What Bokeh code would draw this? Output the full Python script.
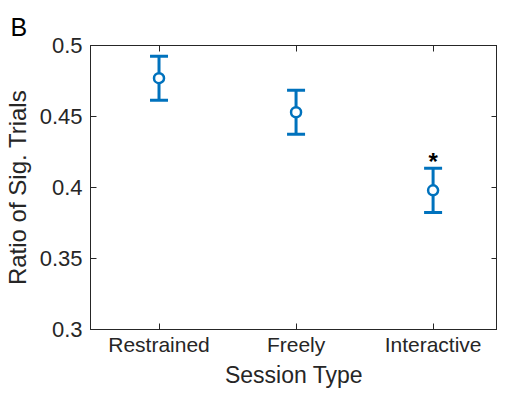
from bokeh.plotting import figure
from bokeh.models import FixedTicker, LinearAxis, Whisker, TeeHead, ColumnDataSource, Range1d
from bokeh.core.properties import value
from bokeh.embed import file_html
from bokeh.resources import INLINE

categories = ["Restrained", "Freely", "Interactive"]
means = [0.477, 0.453, 0.398]
sem = [0.0155, 0.0155, 0.0156]
y_ticks = [0.3, 0.35, 0.4, 0.45, 0.5]
y_tick_labels = ["0.3", "0.35", "0.4", "0.45", "0.5"]
star_index = 2
star_y = 0.421

BLUE = "#0072BD"
AX = "#262626"
FONT = "Liberation Sans"

xs = [i + 1 for i in range(len(categories))]
lower = [m - s for m, s in zip(means, sem)]
upper = [m + s for m, s in zip(means, sem)]
src = ColumnDataSource(dict(x=xs, y=means, lower=lower, upper=upper))

p = figure(width=497, height=390, output_backend="svg", toolbar_location=None,
           x_range=Range1d(0.5, 3.47), y_range=Range1d(0.3, 0.5),
           min_border_left=82, min_border_right=0, min_border_top=45, min_border_bottom=61)
p.background_fill_color = "white"
p.border_fill_color = "white"
p.xgrid.visible = False
p.ygrid.visible = False
p.outline_line_color = AX
p.outline_line_width = 1

p.title.text = "B"
p.title.text_font = FONT
p.title.text_font_size = "25px"
p.title.text_font_style = "normal"
p.title.align = "left"
p.title.offset = -80
p.title.text_color = "black"

def style_axis(ax, tick_size="20px", label_size="22px"):
    ax.axis_line_color = AX
    ax.major_tick_line_color = AX
    ax.major_tick_in = 6
    ax.major_tick_out = 0
    ax.minor_tick_line_color = None
    ax.major_label_text_font = FONT
    ax.major_label_text_color = AX
    ax.major_label_text_font_size = tick_size
    ax.axis_label_text_font = FONT
    ax.axis_label_text_color = AX
    ax.axis_label_text_font_style = "normal"
    ax.axis_label_text_font_size = label_size

xa = p.xaxis[0]
xa.ticker = FixedTicker(ticks=xs)
xa.major_label_overrides = {x: c for x, c in zip(xs, categories)}
xa.axis_label = "Session Type"
style_axis(xa, "21px", "23px")
xa.major_label_standoff = 3
xa.axis_label_standoff = 3

ya = p.yaxis[0]
ya.ticker = FixedTicker(ticks=y_ticks)
ya.major_label_overrides = {t: l for t, l in zip(y_ticks, y_tick_labels)}
ya.axis_label = "Ratio of Sig. Trials"
style_axis(ya, "22px", "24px")
ya.major_label_standoff = 8
ya.axis_label_standoff = 6

top = LinearAxis(ticker=FixedTicker(ticks=xs))
style_axis(top)
top.major_label_overrides = {x: "" for x in xs}
top.major_label_standoff = 0
top.axis_label_standoff = 0
p.add_layout(top, "above")

right = LinearAxis(ticker=FixedTicker(ticks=y_ticks))
style_axis(right)
right.major_label_overrides = {t: "" for t in y_ticks}
right.major_label_standoff = 0
right.axis_label_standoff = 0
p.add_layout(right, "right")

w = Whisker(source=src, base="x", lower="lower", upper="upper", dimension="height",
            line_color=BLUE, line_width=3,
            upper_head=TeeHead(size=18, line_color=BLUE, line_width=3),
            lower_head=TeeHead(size=18, line_color=BLUE, line_width=3))
p.add_layout(w)

p.scatter("x", "y", source=src, marker="circle", size=10, line_color=BLUE,
          line_width=2.5, fill_color="white")

p.text(x=[xs[star_index]], y=[star_y], text=["*"], text_font=value(FONT),
       text_font_size="24px", text_font_style="bold", text_color="black",
       text_align="center", text_baseline="alphabetic", y_offset=4)

open("out.html", "w").write(file_html(p, INLINE))
